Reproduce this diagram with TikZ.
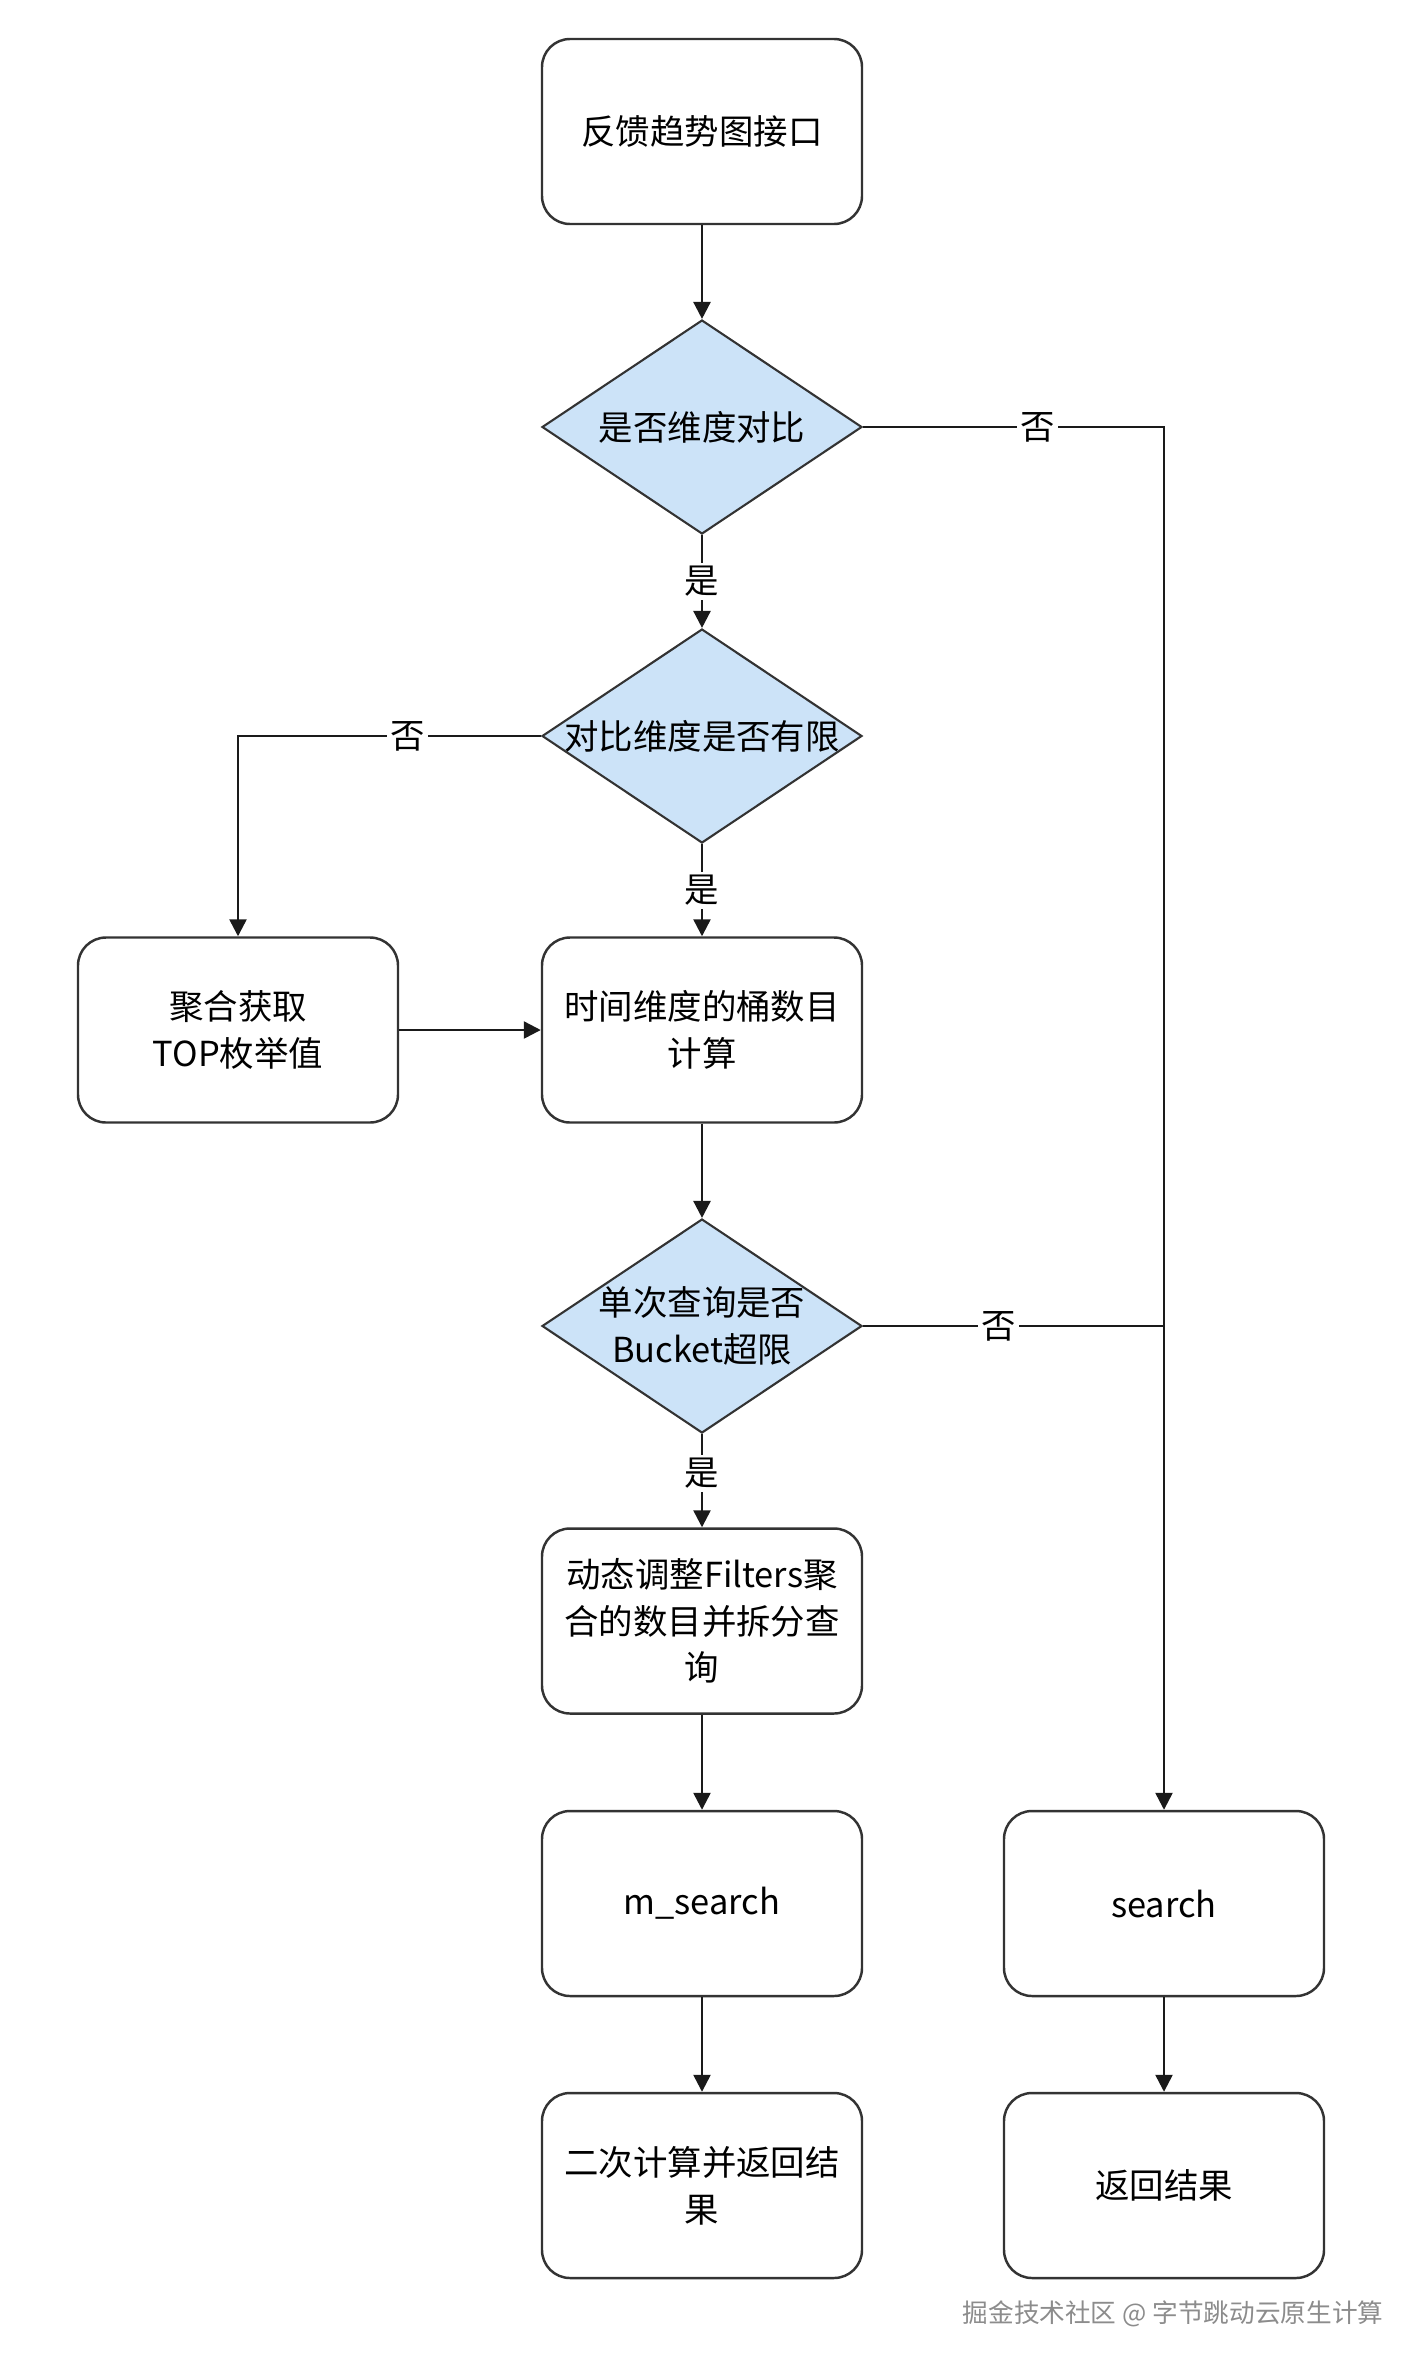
\documentclass[tikz,border=0pt]{standalone}
\usepackage{fontspec}
\setmainfont{Noto Sans CJK SC}
\usetikzlibrary{shapes.geometric,arrows.meta}
\newcommand\flowfont{\fontsize{19.6}{26.6}\selectfont}
\definecolor{wire}{HTML}{1A1A1A}
\definecolor{frame}{HTML}{333333}
\definecolor{decision}{HTML}{CCE3F8}
\definecolor{stamp}{HTML}{8C8C8C}
\tikzset{proc/.style={draw=frame,fill=white,rounded corners=0.56cm,line width=1.4pt,minimum width=6.4cm,minimum height=3.7cm,align=center,font=\flowfont}}
\tikzset{decision/.style={draw=frame,fill=decision,diamond,inner sep=0pt,line width=1.2pt,minimum width=6.4cm,minimum height=4.28cm}}
\tikzset{word/.style={align=center,font=\flowfont,inner sep=0pt}}
\tikzset{choice/.style={fill=white,font=\flowfont,inner sep=2pt}}
\tikzset{flow/.style={draw=wire,line width=1.4pt,-{Triangle[length=0.34cm,width=0.34cm]}}}
\begin{document}
\begin{tikzpicture}
            \useasboundingbox (0,0) rectangle (28.36,-47.42);

            \node[proc] (entry) at (14.04,-2.63) {反馈趋势图接口};
            \node[decision] (cmp) at (14.04,-8.54) {};
            \node[word] (cmpText) at (cmp) {是否维度对比};
            \node[decision] (limit) at (14.04,-14.72) {};
            \node[word] (limitText) at (limit) {对比维度是否有限};
            \node[proc] (topk) at (4.76,-20.6) {聚合获取\\TOP枚举值};
            \node[proc] (bucketNum) at (14.04,-20.6) {时间维度的桶数目\\计算};
            \node[decision] (over) at (14.04,-26.52) {};
            \node[word] (overText) at (over) {单次查询是否\\Bucket超限};
            \node[proc] (split) at (14.04,-32.42) {动态调整Filters聚\\合的数目并拆分查\\询};
            \node[proc] (msearch) at (14.04,-38.07) {m\_search};
            \node[proc] (merge) at (14.04,-43.71) {二次计算并返回结\\果};
            \node[proc] (search) at (23.28,-38.07) {search};
            \node[proc] (result) at (23.28,-43.71) {返回结果};
            \coordinate (join) at (search.north |- over.east);
            \node[text=stamp,font=\fontsize{14.6}{18}\selectfont] (mark) at (23.46,-46.28) {掘金技术社区 @ 字节跳动云原生计算};

            \draw[flow] (entry) -- (cmp);
            \draw[flow] (cmp.east) -| node[choice,pos=0.29] {否} (search.north);
            \draw[flow] (cmp) -- node[choice] {是} (limit);
            \draw[flow] (limit.west) -| node[choice,pos=0.22] {否} (topk.north);
            \draw[flow] (limit) -- node[choice] {是} (bucketNum);
            \draw[flow] (topk) -- (bucketNum);
            \draw[flow] (bucketNum) -- (over);
            \draw[draw=wire,line width=1.4pt] (over.east) -- node[choice,pos=0.45] {否} (join);
            \draw[flow] (over) -- node[choice,pos=0.42] {是} (split);
            \draw[flow] (split) -- (msearch);
            \draw[flow] (msearch) -- (merge);
            \draw[flow] (search) -- (result);
            \end{tikzpicture}
\end{document}
